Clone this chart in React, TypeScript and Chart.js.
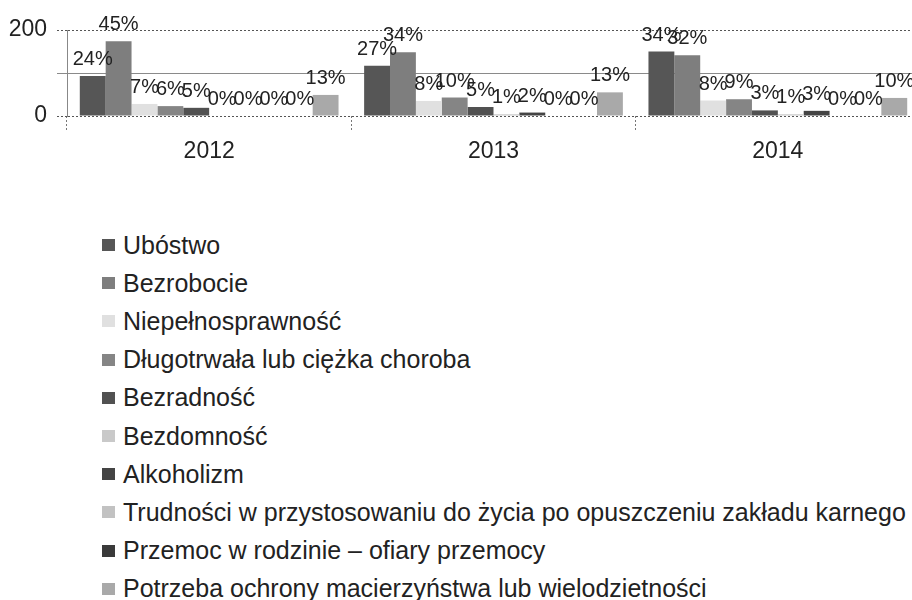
import { useEffect, useRef } from "react";
import { Chart, registerables } from "chart.js";

Chart.register(...registerables);

const FONT = '"Liberation Sans", Arial, Helvetica, sans-serif';

const years = ["2012", "2013", "2014"];

const seriesNames = [
  "Ubóstwo",
  "Bezrobocie",
  "Niepełnosprawność",
  "Długotrwała lub ciężka choroba",
  "Bezradność",
  "Bezdomność",
  "Alkoholizm",
  "Trudności w przystosowaniu do życia po opuszczeniu zakładu karnego",
  "Przemoc w rodzinie – ofiary przemocy",
  "Potrzeba ochrony macierzyństwa lub wielodzietności",
];

const seriesColors = [
  "#565656",
  "#7e7e7e",
  "#e0e0e0",
  "#858585",
  "#515151",
  "#c9c9c9",
  "#444444",
  "#c2c2c2",
  "#3a3a3a",
  "#a9a9a9",
];

// values per series: [2012, 2013, 2014]
const ubostwo = [93, 117, 150];
const bezrobocie = [174, 148, 141];
const niepelnosprawnosc = [28, 35, 36];
const dlugotrwalaChoroba = [23, 43, 39];
const bezradnosc = [19, 21, 13];
const bezdomnosc = [0, 4, 4];
const alkoholizm = [0, 8, 12];
const trudnosciPoZakladzie = [0, 0, 0];
const przemoc = [0, 0, 0];
const macierzynstwo = [49, 55, 42];

// percent labels per series: [2012, 2013, 2014]
const ubostwoPct = [24, 27, 34];
const bezrobociePct = [45, 34, 32];
const niepelnosprawnoscPct = [7, 8, 8];
const dlugotrwalaPct = [6, 10, 9];
const bezradnoscPct = [5, 5, 3];
const bezdomnoscPct = [0, 1, 1];
const alkoholizmPct = [0, 2, 3];
const trudnosciPct = [0, 0, 0];
const przemocPct = [0, 0, 0];
const macierzynstwoPct = [13, 13, 10];

const yMin = 0;
const yMax = 200;
const yStep = 100;
const yShownTicks = [0, 200];

const seriesValues = [
  ubostwo,
  bezrobocie,
  niepelnosprawnosc,
  dlugotrwalaChoroba,
  bezradnosc,
  bezdomnosc,
  alkoholizm,
  trudnosciPoZakladzie,
  przemoc,
  macierzynstwo,
];

const seriesPct = [
  ubostwoPct,
  bezrobociePct,
  niepelnosprawnoscPct,
  dlugotrwalaPct,
  bezradnoscPct,
  bezdomnoscPct,
  alkoholizmPct,
  trudnosciPct,
  przemocPct,
  macierzynstwoPct,
];

const pctLabelsPlugin = {
  id: "pctLabels",
  afterDatasetsDraw(chart: any) {
    const ctx = chart.ctx;
    ctx.save();
    ctx.font = `20px ${FONT}`;
    ctx.fillStyle = "#222";
    ctx.textAlign = "center";
    ctx.textBaseline = "alphabetic";
    chart.data.datasets.forEach((_ds: any, i: number) => {
      const meta = chart.getDatasetMeta(i);
      meta.data.forEach((bar: any, j: number) => {
        ctx.fillText(`${seriesPct[i][j]}%`, bar.x, bar.y - 11);
      });
    });
    ctx.restore();
  },
};

const isMid = (ctx: any) => ctx && ctx.tick && ctx.tick.value === 100;

export default function App() {
  const canvasRef = useRef<HTMLCanvasElement | null>(null);

  useEffect(() => {
    if (!canvasRef.current) return;
    const chart = new Chart(canvasRef.current, {
      type: "bar",
      data: {
        labels: years,
        datasets: seriesNames.map((name, i) => ({
          label: name,
          data: seriesValues[i],
          backgroundColor: seriesColors[i],
          borderWidth: 0,
          categoryPercentage: 0.91,
          barPercentage: 1,
        })),
      },
      options: {
        responsive: false,
        animation: false,
        layout: { padding: { top: 30, left: 0, right: 0, bottom: 0 } },
        plugins: {
          legend: { display: false },
          tooltip: { enabled: false },
        },
        scales: {
          x: {
            offset: true,
            grid: {
              display: true,
              offset: true,
              drawOnChartArea: false,
              drawTicks: true,
              tickLength: 15,
              tickColor: "#777",
              tickBorderDash: [2, 2],
            },
            border: { display: false },
            ticks: {
              font: { size: 23, family: FONT },
              color: "#222",
              padding: 7,
            },
            afterFit: (s: any) => {
              s.height = 50;
            },
          },
          y: {
            min: yMin,
            max: yMax,
            ticks: {
              stepSize: yStep,
              callback: (v: any) => (yShownTicks.includes(Number(v)) ? String(v) : ""),
              font: { size: 23, family: FONT },
              color: "#222",
              padding: 10,
            },
            grid: {
              color: (ctx: any) => (isMid(ctx) ? "#8a8a8a" : "#555"),
              tickColor: (ctx: any) => (isMid(ctx) ? "#8a8a8a" : "#555"),
              tickLength: 10,
              lineWidth: 1,
              tickBorderDash: (ctx: any) => (isMid(ctx) ? [] : [2, 2]),
            },
            border: {
              display: true,
              color: "#888",
              dash: (ctx: any) => (isMid(ctx) ? [] : [2, 2]),
            },
            afterFit: (s: any) => {
              s.width = 67;
            },
          },
        },
      },
      plugins: [pctLabelsPlugin],
    });
    return () => chart.destroy();
  }, []);

  return (
    <div
      style={{
        position: "absolute",
        left: 0,
        top: 0,
        width: 912,
        height: 600,
        overflow: "hidden",
        background: "#fff",
        fontFamily: FONT,
      }}
    >
      <canvas ref={canvasRef} width={920} height={166} style={{ display: "block" }} />
      <div style={{ position: "absolute", left: 102, top: 226 }}>
        {seriesNames.map((name, i) => (
          <div
            key={name}
            style={{
              height: 38.2,
              display: "flex",
              alignItems: "center",
              whiteSpace: "nowrap",
            }}
          >
            <span
              style={{
                display: "inline-block",
                width: 13,
                height: 12,
                background: seriesColors[i],
                marginRight: 8,
              }}
            />
            <span style={{ fontSize: 25, color: "#222" }}>{name}</span>
          </div>
        ))}
      </div>
    </div>
  );
}
